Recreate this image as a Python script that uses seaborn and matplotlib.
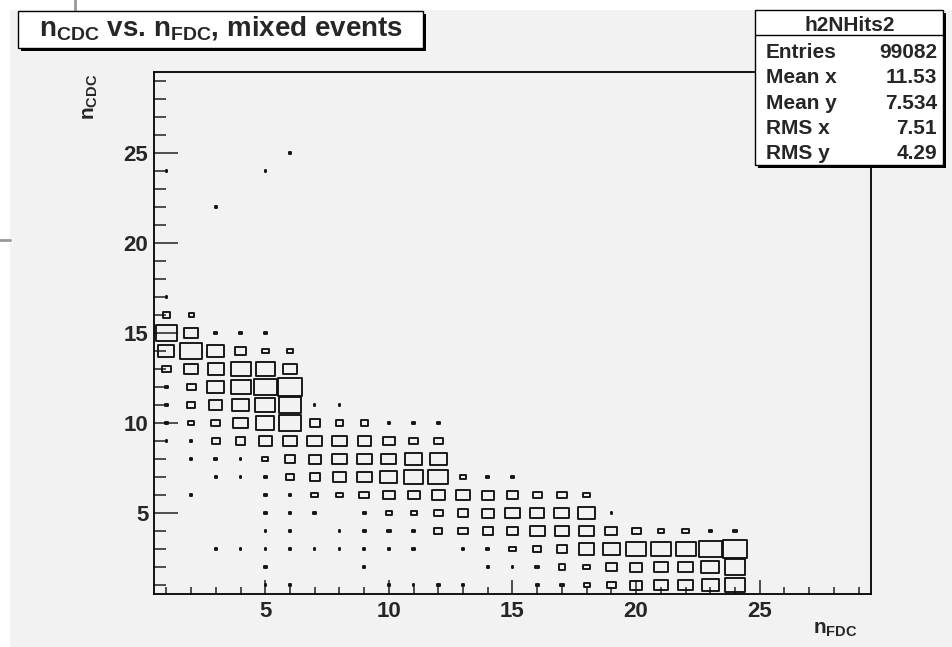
import matplotlib
matplotlib.use("Agg")
import numpy as np
import pandas as pd
import matplotlib.pyplot as plt
from matplotlib.path import Path
from matplotlib.patches import Rectangle
from matplotlib.lines import Line2D
from matplotlib.ticker import MultipleLocator
import seaborn as sns

sns.set_theme(style="ticks")
plt.rcParams["font.family"] = ["Liberation Sans", "DejaVu Sans"]
plt.rcParams["font.weight"] = "bold"
plt.rcParams["mathtext.fontset"] = "custom"
plt.rcParams["mathtext.rm"] = "Liberation Sans:bold"
plt.rcParams["mathtext.bf"] = "Liberation Sans:bold"
plt.rcParams["mathtext.it"] = "Liberation Sans:bold"

# bin contents of h2NHits2, one list per n_CDC row (n_FDC = 1, 2, ... along each list)
nfdc_bins = list(range(1, 25))
ncdc_bins = list(range(1, 18))
bin_contents = [
    [0, 0, 0, 0, 100, 180, 0, 0, 0, 180, 100, 180, 100, 0, 0, 180, 265, 395, 610, 825, 955, 990, 1155, 1355],
    [0, 0, 0, 0, 180, 0, 0, 0, 100, 0, 0, 0, 0, 100, 100, 265, 460, 445, 775, 825, 975, 990, 1190, 1385],
    [0, 0, 100, 100, 100, 180, 100, 100, 100, 180, 180, 0, 180, 180, 430, 545, 710, 1025, 1155, 1335, 1335, 1335, 1520, 1650],
    [0, 0, 0, 0, 100, 100, 0, 100, 180, 230, 230, 530, 610, 675, 775, 990, 925, 990, 810, 610, 430, 430, 230, 230],
    [0, 0, 0, 0, 180, 180, 180, 0, 180, 395, 395, 610, 695, 825, 990, 940, 1005, 1155, 100],
    [0, 100, 0, 0, 180, 180, 430, 445, 625, 810, 810, 910, 890, 825, 695, 610, 625, 445],
    [0, 0, 100, 100, 180, 495, 675, 840, 990, 1120, 1220, 1355, 395, 180, 180],
    [0, 100, 180, 100, 395, 660, 825, 955, 1005, 1005, 1140, 1155],
    [100, 180, 495, 660, 860, 955, 1005, 1005, 860, 790, 625, 595],
    [180, 410, 580, 990, 1205, 1435, 645, 495, 480, 180, 250, 180],
    [180, 510, 860, 1170, 1335, 1485, 100, 100],
    [180, 610, 1155, 1335, 1520, 1650],
    [560, 955, 1070, 1335, 1240, 940],
    [1070, 1435, 1155, 790, 445, 430],
    [1435, 955, 180, 180, 180],
    [510, 345],
    [100],
]
# isolated entries far above the band
outlier_nfdc = [1, 3, 5, 6]
outlier_ncdc = [24, 22, 24, 25]
outlier_counts = [100, 100, 100, 100]

stats_labels = ["Entries", "Mean x", "Mean y", "RMS x", "RMS y"]
stats_values = ["99082", "11.53", "7.534", "7.51", "4.29"]

records = []
for ncdc, row in zip(ncdc_bins, bin_contents):
    for nfdc, c in zip(nfdc_bins, row):
        if c > 0:
            records.append((nfdc, ncdc, c))
records += list(zip(outlier_nfdc, outlier_ncdc, outlier_counts))
hist = pd.DataFrame(records, columns=["nfdc", "ncdc", "content"])

W, H = 953, 647
fig = plt.figure(figsize=(W / 100, H / 100), dpi=100, facecolor="white")
fig.patches.append(Rectangle((10 / W, 0), 1, 1 - 10 / H, transform=fig.transFigure,
                             facecolor="#f2f2f2", edgecolor="none", zorder=-10))
# bits of the window behind the canvas
fig.lines.append(Line2D([75 / W, 75 / W], [1, 1 - 10 / H], transform=fig.transFigure,
                        color="#999999", linewidth=2))
fig.lines.append(Line2D([0, 10 / W], [1 - 240 / H, 1 - 240 / H], transform=fig.transFigure,
                        color="#999999", linewidth=2))

ax = fig.add_axes([154 / W, 1 - 594 / H, 717 / W, 522 / H])
ax.set_facecolor("none")
ax.set_xlim(0.5, 29.5)
ax.set_ylim(0.5, 29.5)

# ROOT "box" drawing: box side proportional to bin content, full bin at the maximum
x0, y0 = ax.transData.transform((0, 0))
x1, y1 = ax.transData.transform((1, 1))
px_x, px_y = x1 - x0, y1 - y0
asp = px_y / px_x
box = Path([(-0.5, -asp / 2), (0.5, -asp / 2), (0.5, asp / 2), (-0.5, asp / 2), (-0.5, -asp / 2)],
           [Path.MOVETO, Path.LINETO, Path.LINETO, Path.LINETO, Path.CLOSEPOLY])
full_pt = px_x * 72 / fig.dpi
hist["area"] = (hist["content"] / hist["content"].max() * full_pt) ** 2

sns.scatterplot(data=hist, x="nfdc", y="ncdc", size="area",
                sizes=(0, full_pt ** 2), size_norm=(0, full_pt ** 2),
                marker=box, color="black", facecolor="none", edgecolor="#111111",
                linewidth=1.35, legend=False, ax=ax, zorder=3)

ax.set_xlabel("")
ax.set_ylabel("")
for axis in (ax.xaxis, ax.yaxis):
    axis.set_major_locator(MultipleLocator(5))
    axis.set_minor_locator(MultipleLocator(1))
ax.tick_params(which="both", direction="in", width=1.1, color="#222222",
               labelsize=16, top=False, right=False)
ax.tick_params(axis="x", which="major", length=10, pad=5)
ax.tick_params(axis="x", which="minor", length=5)
ax.tick_params(axis="y", which="major", length=17.5, pad=4)
ax.tick_params(axis="y", which="minor", length=8.5)
for s in ax.spines.values():
    s.set_linewidth(1.3)
    s.set_color("black")

fig.text(91 / W, 1 - 74 / H, r"n$_{\rm CDC}$", rotation=90, ha="center", va="top", fontsize=15)
fig.text(858 / W, 1 - 620 / H, r"n$_{\rm FDC}$", ha="right", va="top", fontsize=15)


def root_box(left, top, right, bottom):
    fig.patches.append(Rectangle(((left + 3) / W, 1 - (bottom + 3) / H), (right - left) / W,
                                 (bottom - top) / H, transform=fig.transFigure,
                                 facecolor="black", edgecolor="none", zorder=8))
    fig.patches.append(Rectangle((left / W, 1 - bottom / H), (right - left) / W,
                                 (bottom - top) / H, transform=fig.transFigure,
                                 facecolor="white", edgecolor="black", linewidth=1, zorder=9))


root_box(18, 11, 423, 48)
fig.text(221 / W, 1 - 36 / H, r"n$_{\rm CDC}$ vs. n$_{\rm FDC}$, mixed events",
         ha="center", va="baseline", fontsize=20, zorder=10)

root_box(755, 10, 943, 165)
fig.lines.append(Line2D([755 / W, 943 / W], [1 - 35 / H, 1 - 35 / H], transform=fig.transFigure,
                        color="black", linewidth=1, zorder=10))
fig.text(850 / W, 1 - 31 / H, "h2NHits2", ha="center", va="baseline", fontsize=15, zorder=10)
for i, (lab, val) in enumerate(zip(stats_labels, stats_values)):
    yb = 1 - (58 + 25.3 * i) / H
    fig.text(766 / W, yb, lab, ha="left", va="baseline", fontsize=15, zorder=10)
    fig.text(937 / W, yb, val, ha="right", va="baseline", fontsize=15, zorder=10)

fig.savefig("out.png", dpi=100, facecolor=fig.get_facecolor())
